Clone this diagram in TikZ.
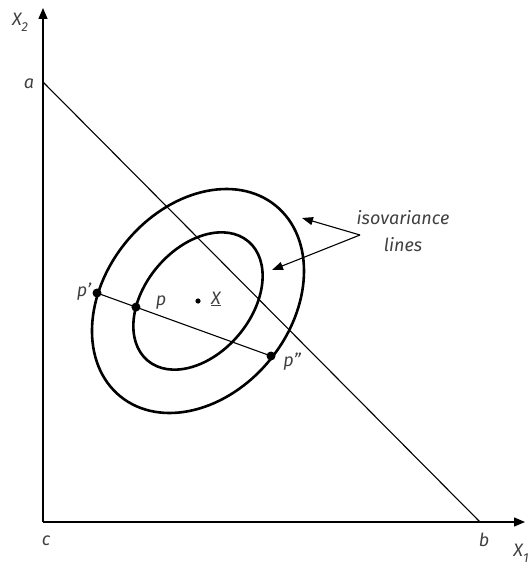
\documentclass[tikz,border=0pt]{standalone}
\usepackage{fontspec}
\setmainfont{Fira Sans}
\usetikzlibrary{arrows.meta, intersections}

\newcommand{\lowidx}[1]{\raisebox{-0.32em}{\fontsize{13}{13}\selectfont #1}}

\begin{document}
\begin{tikzpicture}[
    x=1pt, y=-1pt,
    font=\fontsize{18}{27}\selectfont\itshape,
    axis/.style={draw, line width=1.3pt, -{Triangle[length=11pt, width=9pt]}},
    contour/.style={draw, line width=2.6pt},
    thinline/.style={draw, line width=1.1pt},
    pointer/.style={draw, line width=1.1pt, -{Triangle[length=11pt, width=8pt]}},
    lbl/.style={text=black!75, inner sep=1pt},
    dot/.style={fill=black}
]
\useasboundingbox (0,0) rectangle (531,564);

\coordinate (c)    at (43,522);
\coordinate (ytip) at (43,8);
\coordinate (xtip) at (525,522);
\coordinate (A)    at (43,82);
\coordinate (B)    at (480,522);
\coordinate (O)    at (198,301);

% axes and budget line
\draw[axis] (c) -- (ytip);
\draw[axis] (c) -- (xtip);
\draw[thinline] (A) -- (B);

% isovariance lines
\draw[contour, name path=outer, rotate around={50.8:(O)}] (O) ellipse [x radius=123, y radius=93];
\draw[contour, name path=inner, rotate around={49.7:(O)}] (O) ellipse [x radius=78, y radius=53];

\coordinate (pp)  at (97,293);
\coordinate (ppp) at (271,356);
\path[name path=chord] (pp) -- (ppp);
\path[name intersections={of=chord and inner, sort by=chord, by={p}}];
\draw[thinline] (pp) -- (ppp);

\fill[dot] (pp)  circle (4.5);
\fill[dot] (p)   circle (4.5);
\fill[dot] (ppp) circle (4.5);
\fill[dot] (O)   circle (2.6);

% labels
\node[lbl] (x2lbl)  at (20,22)  {X\lowidx{2}};
\node[lbl] (x1lbl)  at (521,553) {X\lowidx{1}};
\node[lbl] (albl)   at (29,84)  {a};
\node[lbl] (blbl)   at (484,540) {b};
\node[lbl] (clbl)   at (46,541) {c};
\node[lbl] (pplbl)  at (84,292) {p'};
\node[lbl] (plbl)   at (161,303) {p};
\node[lbl] (ppplbl) at (292,362) {p''};
\node[lbl] (meanlbl) at (216,299) {\underline{X}};
\node[lbl, align=center] (iso) at (403,231) {isovariance\\lines};

% pointers
\coordinate (fork) at (360,235);
\coordinate (tipA) at (302,218);
\coordinate (tipB) at (272,270);
\draw[pointer] (fork) -- (tipA);
\draw[pointer] (fork) -- (tipB);

\end{tikzpicture}
\end{document}
